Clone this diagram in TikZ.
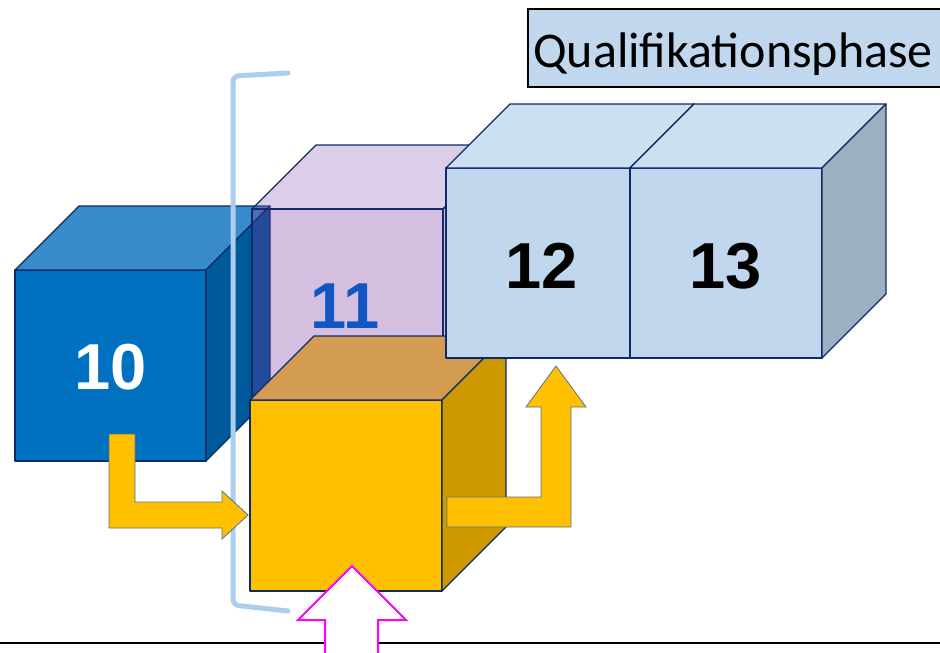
\documentclass[tikz,border=0pt]{standalone}
\usepackage{fontspec}
\setmainfont{Carlito}
\newfontfamily\numfont{Liberation Sans}
\usetikzlibrary{positioning}
\definecolor{edgeblue}{HTML}{0F2A68}
\definecolor{blueF}{HTML}{0070C0}
\definecolor{blueT}{HTML}{378BCA}
\definecolor{blueR}{HTML}{005A9A}
\definecolor{lila}{HTML}{732D9E}
\definecolor{lilaT}{HTML}{8A58B2}
\definecolor{goldF}{HTML}{FFC000}
\definecolor{goldT}{HTML}{D49C50}
\definecolor{goldR}{HTML}{CC9A00}
\definecolor{paleF}{HTML}{C1D7ED}
\definecolor{paleT}{HTML}{CDE0F1}
\definecolor{paleR}{HTML}{9CB0C1}
\definecolor{klammerblau}{HTML}{ABCDEE}
\definecolor{elfblau}{HTML}{1157C4}
\definecolor{arrowline}{HTML}{5A6E8C}
\definecolor{pink}{HTML}{FF00FF}
\tikzstyle{cubeline} = [draw=edgeblue, line width=1.3pt, line join=round]
\tikzstyle{numtext} = [font=\numfont\bfseries\fontsize{65}{65}\selectfont, inner sep=0pt]
\tikzstyle{yellowarrow} = [fill=goldF, draw=arrowline, line width=0.8pt]
\tikzstyle{pinkarrow} = [fill=white, draw=pink, line width=2pt]
\tikzstyle{klammer} = [draw=klammerblau, line width=5pt, rounded corners=6pt, line cap=round]
\tikzstyle{titlebox} = [fill=paleF, draw=black, line width=1.5pt]
% Wuerfel: Optionen, x, y (vorne oben links), Breite, Hoehe, Farben vorne/oben/rechts
\newcommand{\drawcube}[8]{%
  \filldraw[cubeline, fill=#6, #1] (#2,#3) rectangle ++(#4,#5);
  \filldraw[cubeline, fill=#7, #1] (#2,#3) -- ++(64,-64) -- ++(#4,0) -- ++(-64,64) -- cycle;
  \filldraw[cubeline, fill=#8, #1] (#2+#4,#3) -- ++(64,-64) -- ++(0,#5) -- ++(-64,64) -- cycle;
}

\begin{document}
\begin{tikzpicture}[x=1pt, y=-1pt]
		\useasboundingbox (0,0) rectangle (940,653);
		%Wuerfel 10 und 11
		\drawcube{}{15}{270}{191}{191}{blueF}{blueT}{blueR}
		\drawcube{fill opacity=0.3}{252}{209}{191}{191}{lila}{lilaT}{lila}
		
		%Klammer
		\draw [klammer] (288,73) -- (233,76) -- (233,605) -- (288,611);
		
		%Wuerfel gelb, 12, 13
		\drawcube{}{250}{400}{192}{191}{goldF}{goldT}{goldR}
		\drawcube{}{446}{168}{184}{190}{paleF}{paleT}{paleR}
		\drawcube{}{630}{168}{192}{190}{paleF}{paleT}{paleR}
		
		%Zahlen
		\node (n10) [numtext, text=white] at (111,367) {10};
		\node (n11) [numtext, text=elfblau] at (345,306) {11};
		\node (n12) [numtext] at (542,266) {12};
		\node (n13) [numtext] at (726,266) {13};
		
		%Pfeile
		\draw [yellowarrow] (109,434) -- (135,434) -- (135,502) -- (222,502) -- (222,491) -- (248,515)
			-- (222,539) -- (222,528) -- (109,528) -- cycle;
		\draw [yellowarrow] (447,497) -- (541,497) -- (541,407) -- (526,407) -- (556,366) -- (586,407)
			-- (571,407) -- (571,527) -- (447,527) -- cycle;
		
		%Titel
		\draw [titlebox] (528,9) rectangle (943,87);
		\node (titel) [anchor=base, font=\fontsize{50}{50}\selectfont] at (733,67) {Qualifikationsphase};
		
		%Grundlinie und Pfeil von unten
		\coordinate (links) at (0,643);
		\coordinate (rechts) at (940,643);
		\draw [line width=2pt] (links) -- (rechts);
		\draw [pinkarrow] (325,665) -- (325,620) -- (298,620) -- (352,566) -- (406,620) -- (378,620) -- (378,665);
	\end{tikzpicture}
\end{document}
